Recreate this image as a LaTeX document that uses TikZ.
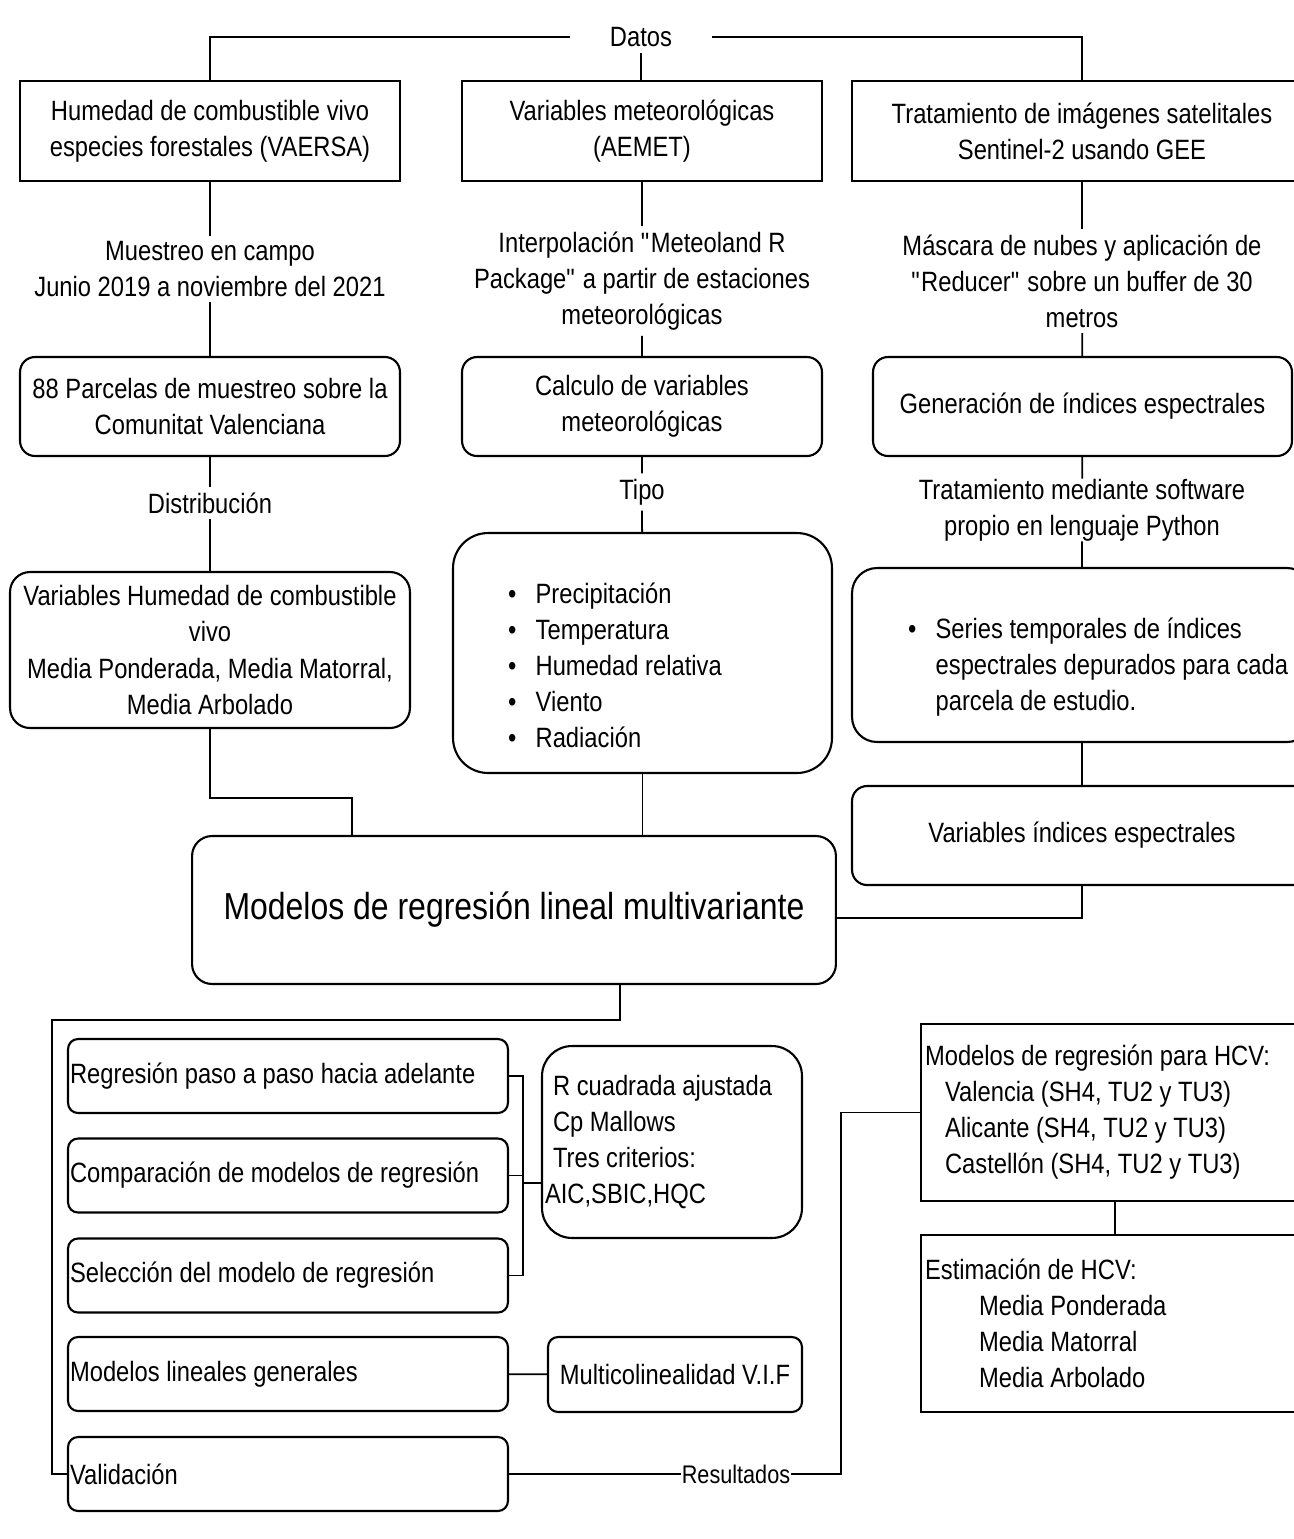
\documentclass[tikz,border=0pt]{standalone}
\usepackage{fontspec}
\setmainfont{Liberation Sans}[FakeStretch=0.85]
\usetikzlibrary{positioning}

\begin{document}
\begin{tikzpicture}[x=0.02cm, y=-0.02cm,
  every node/.style={font=\fontsize{15.9}{20.5}\selectfont},
  sqbox/.style={draw, line width=1.2pt, align=center, inner sep=0pt},
  rbox/.style={draw, line width=1.2pt, align=center, inner sep=0pt, rounded corners=#1},
  rbox/.default=0.3cm,
  lbl/.style={align=center, inner xsep=2pt, inner ysep=3pt},
  conn/.style={line width=1pt}]
\useasboundingbox (0,0) rectangle (1294,1539);
\clip (0,0) rectangle (1294,1539);

% fuentes de datos
\node[minimum width=2.84cm] (datos) at (641,37) {Datos};
\node[sqbox, minimum width=7.6cm, minimum height=2cm] (humedad) at (210,131) {Humedad de combustible vivo\\especies forestales (VAERSA)};
\node[sqbox, minimum width=7.2cm, minimum height=2cm] (meteo) at (642,131) {Variables meteorológicas\\(AEMET)};
\node[sqbox, minimum width=9.2cm, minimum height=2cm] (satel) at (1082,131) {Tratamiento de imágenes satelitales\\Sentinel-2 usando GEE};
\draw[conn] (datos.west) -| (humedad.north);
\draw[conn] (datos.east) -| (satel.north);
\draw[conn] (datos) -- (datos |- meteo.north);

% columna humedad
\node[lbl] (muestreo) at (210,269) {Muestreo en campo\\Junio 2019 a noviembre del 2021};
\node[rbox, minimum width=7.6cm, minimum height=1.98cm] (parcelas) at (210,406.5) {88 Parcelas de muestreo sobre la\\Comunitat Valenciana};
\node[lbl] (distrib) at (210,503) {Distribución};
\node[rbox=0.4cm, minimum width=8cm, minimum height=3.12cm] (varhum) at (210,650) {Variables Humedad de combustible\\vivo\\Media Ponderada, Media Matorral,\\Media Arbolado};
\draw[conn] (humedad) -- (muestreo) -- (parcelas) -- (distrib) -- (varhum);

% columna meteorologia
\node[lbl] (interp) at (642,281) {Interpolación \textquotedbl Meteoland R\\Package\textquotedbl\ a partir de estaciones\\meteorológicas};
\node[rbox, minimum width=7.2cm, minimum height=1.98cm] (calculo) at (642,406.5) {Calculo de variables\\meteorológicas};
\node[lbl] (tipo) at (642,492) {Tipo};
\node[rbox=0.7cm, minimum width=7.58cm, minimum height=4.8cm, inner xsep=1.1cm] (tipos) at (642.5,653) {\makebox[5.38cm][l]{\begin{tabular}{@{}l@{\hspace{11pt}}l@{}}
\rule{0pt}{1.1cm}\textbullet & Precipitación\\
\textbullet & Temperatura\\
\textbullet & Humedad relativa\\
\textbullet & Viento\\
\textbullet & Radiación
\end{tabular}}};
\draw[conn] (meteo) -- (interp) -- (calculo) -- (tipo) -- (tipos);

% columna satelite
\node[lbl] (mascara) at (1082,281) {Máscara de nubes y aplicación de\\\textquotedbl Reducer\textquotedbl\ sobre un buffer de 30\\metros};
\node[rbox, minimum width=8.38cm, minimum height=1.98cm] (indices) at (1082.5,406.5) {Generación de índices espectrales};
\node[lbl, inner ysep=0pt] (software) at (1082,510) {Tratamiento mediante software\\propio en lenguaje Python};
\node[rbox=0.5cm, minimum width=9.2cm, minimum height=3.48cm, inner xsep=1.12cm] (series) at (1082,655) {\makebox[6.96cm][l]{\begin{tabular}{@{}l@{\hspace{11pt}}l@{}}
\rule{0pt}{0.98cm}\textbullet & Series temporales de índices\\
 & espectrales depurados para cada\\
 & parcela de estudio.
\end{tabular}}};
\node[rbox, minimum width=9.2cm, minimum height=1.98cm] (varind) at (1082,835.5) {Variables índices espectrales};
\draw[conn] (satel) -- (mascara) -- (indices) -- (software) -- (series) -- (varind);

% modelo central
\node[rbox=0.4cm, minimum width=12.88cm, minimum height=2.96cm, font=\fontsize{21.4}{26}\selectfont] (modelos) at (514,910) {Modelos de regresión lineal multivariante};
\draw[conn] (varhum.south) -- ++(0,69) -| ([xshift=-3.24cm]modelos.north);
\draw[conn] (tipos) -- (tipos |- modelos.north);
\draw[conn] (varind.south) |- ([yshift=-0.16cm]modelos.east);

% pasos del analisis
\tikzset{paso/.style={rbox=0.2cm, align=flush left, text width=8.72cm, inner xsep=0.04cm, minimum height=1.48cm}}
\node[paso] (pasoA) at (288,1076) {Regresión paso a paso hacia adelante};
\node[paso] (pasoB) at (288,1175.5) {Comparación de modelos de regresión};
\node[paso] (pasoC) at (288,1275.5) {Selección del modelo de regresión};
\node[paso] (lineales) at (288,1374) {Modelos lineales generales};
\node[paso] (valid) at (288,1474) {Validación};
\node[rbox=0.6cm, align=flush left, text width=5.08cm, inner xsep=0.06cm, minimum height=3.84cm] (criterios) at (672,1142) {\hspace*{0.16cm}R cuadrada ajustada\\\hspace*{0.16cm}Cp Mallows\\\hspace*{0.16cm}Tres criterios:\\AIC,SBIC,HQC};
\node[rbox=0.2cm, minimum width=5.08cm, minimum height=1.5cm] (vif) at (675,1374.5) {Multicolinealidad V.I.F};
\draw[conn] ([xshift=2.12cm]modelos.south) -- ++(0,35) -| ([xshift=-0.3cm]valid.west) -- (valid.west);
\draw[conn] (pasoA.east) -- ++(14,0) |- (pasoC.east);
\draw[conn] (pasoB.east) -- ++(14,0);
\draw[conn] ([yshift=-0.82cm]criterios.west) -- ++(-19,0);
\draw[conn] (lineales) -- (vif);

% resultados
\node[fill=white, inner sep=0pt, font=\fontsize{14.5}{17}\selectfont] (result) at (736,1474) {Resultados};
\node[sqbox, align=flush left, text width=7.6cm, inner xsep=0.08cm, minimum height=3.54cm] (hcvmod) at (1115,1112.5) {Modelos de regresión para HCV:\\\hspace*{0.4cm}Valencia (SH4, TU2 y TU3)\\\hspace*{0.4cm}Alicante (SH4, TU2 y TU3)\\\hspace*{0.4cm}Castellón (SH4, TU2 y TU3)};
\node[sqbox, align=flush left, text width=7.6cm, inner xsep=0.08cm, minimum height=3.54cm] (hcvest) at (1115,1323.5) {Estimación de HCV:\\\hspace*{1.08cm}Media Ponderada\\\hspace*{1.08cm}Media Matorral\\\hspace*{1.08cm}Media Arbolado};
\draw[conn] (valid.east) -- (result.west);
\draw[conn] (result.east) -| ([xshift=-1.58cm]hcvmod.west) -- (hcvmod.west);
\draw[conn] (hcvmod) -- (hcvest);
\end{tikzpicture}
\end{document}
